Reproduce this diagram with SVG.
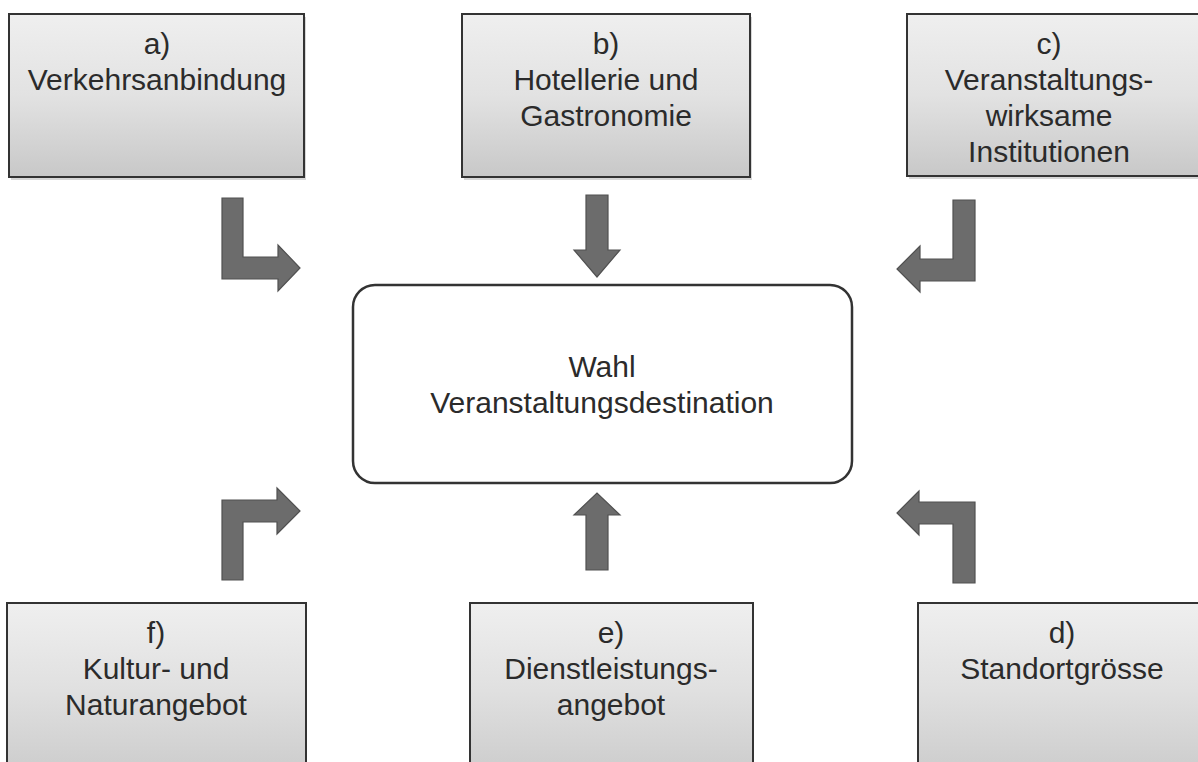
<svg xmlns="http://www.w3.org/2000/svg" width="1198" height="762" viewBox="0 0 1198 762">
  <defs>
    <linearGradient id="boxFill" x1="0" y1="0" x2="0" y2="1">
      <stop offset="0" stop-color="#efefef"/>
      <stop offset="0.5" stop-color="#e2e2e2"/>
      <stop offset="1" stop-color="#c8c8c8"/>
    </linearGradient>
    <linearGradient id="boxFillLow" x1="0" y1="0" x2="0" y2="1">
      <stop offset="0" stop-color="#efefef"/>
      <stop offset="0.5" stop-color="#e0e0e0"/>
      <stop offset="1" stop-color="#cbcbcb"/>
    </linearGradient>
  </defs>
  <style>
    .box { stroke: #333333; stroke-width: 2; }
    .shadow { fill: #bdbdbd; opacity: 0.6; }
    .label { font-family: "Liberation Sans", Arial, sans-serif; font-size: 30px; fill: #2b2b2b; text-anchor: middle; }
    .arrow { fill: #6c6c6c; stroke: #505050; stroke-width: 1.2; stroke-linejoin: miter; }
    .center { fill: #ffffff; stroke: #333333; stroke-width: 2.5; }
  </style>
  <rect width="1198" height="762" fill="#ffffff"/>

  <g id="node-a">
    <rect class="shadow" x="11" y="17" width="295" height="163"/>
    <rect class="box" x="9" y="14" width="295" height="163" fill="url(#boxFill)"/>
    <text class="label" x="157" y="54">a)</text>
    <text class="label" x="157" y="90">Verkehrsanbindung</text>
  </g>

  <g id="node-b">
    <rect class="shadow" x="464" y="17" width="288" height="163"/>
    <rect class="box" x="462" y="14" width="288" height="163" fill="url(#boxFill)"/>
    <text class="label" x="606" y="54">b)</text>
    <text class="label" x="606" y="90">Hotellerie und</text>
    <text class="label" x="606" y="126">Gastronomie</text>
  </g>

  <g id="node-c">
    <rect class="shadow" x="909" y="17" width="300" height="162"/>
    <rect class="box" x="907" y="14" width="300" height="162" fill="url(#boxFill)"/>
    <text class="label" x="1049" y="54">c)</text>
    <text class="label" x="1049" y="90">Veranstaltungs-</text>
    <text class="label" x="1049" y="126">wirksame</text>
    <text class="label" x="1049" y="162">Institutionen</text>
  </g>

  <g id="node-center">
    <rect class="center" x="353" y="285" width="499" height="198" rx="22" ry="22"/>
    <text class="label" x="602" y="377">Wahl</text>
    <text class="label" x="602" y="413">Veranstaltungsdestination</text>
  </g>

  <g id="node-f">
    <rect class="box" x="7" y="603" width="299" height="175" fill="url(#boxFillLow)"/>
    <text class="label" x="156" y="643">f)</text>
    <text class="label" x="156" y="679">Kultur- und</text>
    <text class="label" x="156" y="715">Naturangebot</text>
  </g>

  <g id="node-e">
    <rect class="box" x="470" y="603" width="283" height="175" fill="url(#boxFillLow)"/>
    <text class="label" x="611" y="643">e)</text>
    <text class="label" x="611" y="679">Dienstleistungs-</text>
    <text class="label" x="611" y="715">angebot</text>
  </g>

  <g id="node-d">
    <rect class="box" x="918" y="603" width="300" height="175" fill="url(#boxFillLow)"/>
    <text class="label" x="1062" y="643">d)</text>
    <text class="label" x="1062" y="679">Standortgrösse</text>
  </g>

  <g id="connectors">
    <polygon id="arrow-a" class="arrow" points="222,198 243,198 243,257 278,257 278,245 300,268 278,291 278,279 222,279"/>
    <polygon id="arrow-b" class="arrow" points="586,195 608,195 608,250 620,250 597,277 574,250 586,250"/>
    <polygon id="arrow-c" class="arrow" points="953,200 975,200 975,281 920,281 920,292 897,269 920,246 920,259 953,259"/>
    <polygon id="arrow-d" class="arrow" points="975,583 953,583 953,524 919,524 919,535 897,513 919,491 919,502 975,502"/>
    <polygon id="arrow-e" class="arrow" points="586,570 608,570 608,515 620,515 597,493 574,515 586,515"/>
    <polygon id="arrow-f" class="arrow" points="222,580 243,580 243,522 277,522 277,534 300,511 277,488 277,500 222,500"/>
  </g>
</svg>
